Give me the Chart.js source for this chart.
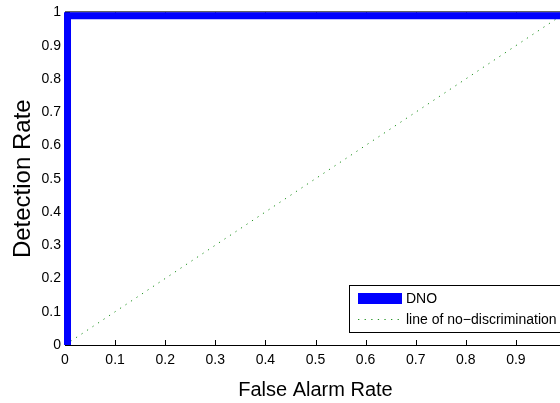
<!DOCTYPE html>
<html>
<head>
<meta charset="utf-8">
<script src="https://cdn.jsdelivr.net/npm/chart.js@4/dist/chart.umd.min.js"></script>
<style>
  html, body { margin: 0; padding: 0; overflow: hidden; background: #fff; width: 560px; height: 403px; }
  canvas { display: block; }
</style>
</head>
<body>
<canvas id="c" width="620" height="403"></canvas>
<script>
// ---- data ----
const rocLabel = 'DNO';
const rocFalseAlarm = [0.005, 0.005, 1];
const rocDetection = [0, 0.99, 0.99];
const chanceLabel = 'line of no\u2212discrimination';
const chanceFalseAlarm = [0, 1];
const chanceDetection = [0, 1];
const xTickValues = [0, 0.1, 0.2, 0.3, 0.4, 0.5, 0.6, 0.7, 0.8, 0.9, 1];
const xTickLabels = ['0', '0.1', '0.2', '0.3', '0.4', '0.5', '0.6', '0.7', '0.8', '0.9', '1'];
const yTickValues = [0, 0.1, 0.2, 0.3, 0.4, 0.5, 0.6, 0.7, 0.8, 0.9, 1];
const yTickLabels = ['0', '0.1', '0.2', '0.3', '0.4', '0.5', '0.6', '0.7', '0.8', '0.9', '1'];
const xTitle = 'False Alarm Rate';
const yTitle = 'Detection Rate';

const FONT = "'Liberation Sans', Arial, Helvetica, sans-serif";

function pts(xs, ys) { return xs.map((x, i) => ({ x: x, y: ys[i] })); }

const innerTicks = {
  id: 'innerTicks',
  beforeDatasetsDraw(chart) {
    const { ctx, chartArea: a, scales: { x, y } } = chart;
    ctx.save();
    ctx.strokeStyle = '#000';
    ctx.lineWidth = 1;
    ctx.beginPath();
    // top box line
    ctx.moveTo(a.left, a.top - 0.5);
    ctx.lineTo(a.right, a.top - 0.5);
    ctx.moveTo(a.right - 0.5, a.top);
    ctx.lineTo(a.right - 0.5, a.bottom);
    xTickValues.forEach(v => {
      const px = Math.round(x.getPixelForValue(v)) + 0.5;
      ctx.moveTo(px, a.bottom); ctx.lineTo(px, a.bottom - 5);
      ctx.moveTo(px, a.top); ctx.lineTo(px, a.top + 5);
    });
    yTickValues.forEach(v => {
      const py = Math.round(y.getPixelForValue(v)) + 0.5;
      ctx.moveTo(a.left, py); ctx.lineTo(a.left + 5, py);
      ctx.moveTo(a.right, py); ctx.lineTo(a.right - 5, py);
    });
    ctx.stroke();
    ctx.restore();
  }
};

const boxLegend = {
  id: 'boxLegend',
  afterDraw(chart) {
    const { ctx } = chart;
    const ds = chart.data.datasets;
    const bx = 349.5, by = 285.5, bw = 215, bh = 47;
    ctx.save();
    ctx.fillStyle = '#fff';
    ctx.fillRect(bx, by, bw, bh);
    ctx.strokeStyle = '#000';
    ctx.lineWidth = 1;
    ctx.strokeRect(bx, by, bw, bh);
    ctx.font = '14px ' + FONT;
    ctx.textBaseline = 'middle';
    ctx.textAlign = 'left';
    // row 1: thick line swatch
    ctx.fillStyle = ds[0].borderColor;
    ctx.fillRect(358, 293, 44, 11);
    ctx.fillStyle = '#000';
    ctx.fillText(ds[0].label, 406, 299);
    // row 2: dotted swatch
    ctx.strokeStyle = ds[1].borderColor;
    ctx.setLineDash(ds[1].borderDash);
    ctx.lineWidth = 1;
    ctx.beginPath();
    ctx.moveTo(358, 319.5);
    ctx.lineTo(402, 319.5);
    ctx.stroke();
    ctx.setLineDash([]);
    ctx.fillStyle = '#000';
    ctx.fillText(ds[1].label, 406, 320.5);
    ctx.restore();
  }
};

new Chart(document.getElementById('c'), {
  type: 'line',
  data: {
    datasets: [
      {
        label: rocLabel,
        data: pts(rocFalseAlarm, rocDetection),
        borderColor: '#0000ff',
        backgroundColor: '#0000ff',
        borderWidth: 7,
        pointRadius: 0,
        tension: 0,
        fill: false,
        borderJoinStyle: 'miter',
        borderCapStyle: 'butt',
        clip: false
      },
      {
        label: chanceLabel,
        data: pts(chanceFalseAlarm, chanceDetection),
        borderColor: 'rgb(40,150,40)',
        backgroundColor: 'rgb(40,150,40)',
        borderWidth: 1,
        borderDash: [1.3, 5.3],
        pointRadius: 0,
        tension: 0,
        fill: false,
        order: 1
      }
    ]
  },
  options: {
    responsive: false,
    animation: false,
    devicePixelRatio: 1,
    layout: { padding: { top: 10, right: 54, bottom: 0, left: 0 } },
    plugins: {
      legend: { display: false },
      tooltip: { enabled: false }
    },
    scales: {
      x: {
        type: 'linear',
        min: 0, max: 1,
        afterFit(s) { s.height = 58; },
        afterBuildTicks(s) { s.ticks = xTickValues.map(v => ({ value: v })); },
        grid: { display: false, drawTicks: false },
        border: { display: true, color: '#000', width: 1 },
        ticks: {
          autoSkip: false, maxRotation: 0, padding: 7,
          color: '#000',
          font: { family: FONT, size: 14 },
          callback: (v, i) => xTickLabels[i]
        },
        title: {
          display: true, text: xTitle, color: '#000',
          font: { family: FONT, size: 20, lineHeight: 1 },
          padding: { top: 0, bottom: 3 }
        }
      },
      y: {
        type: 'linear',
        min: 0, max: 1,
        afterFit(s) { s.width = 65; },
        afterBuildTicks(s) { s.ticks = yTickValues.map(v => ({ value: v })); },
        grid: { display: false, drawTicks: false },
        border: { display: true, color: '#000', width: 1 },
        ticks: {
          autoSkip: false, padding: 4,
          color: '#000',
          font: { family: FONT, size: 14 },
          callback: (v, i) => yTickLabels[i]
        },
        title: {
          display: true, text: yTitle, color: '#000',
          font: { family: FONT, size: 24, lineHeight: 1 },
          padding: { top: 11, bottom: 0 }
        }
      }
    }
  },
  plugins: [innerTicks, boxLegend]
});
</script>
</body>
</html>
